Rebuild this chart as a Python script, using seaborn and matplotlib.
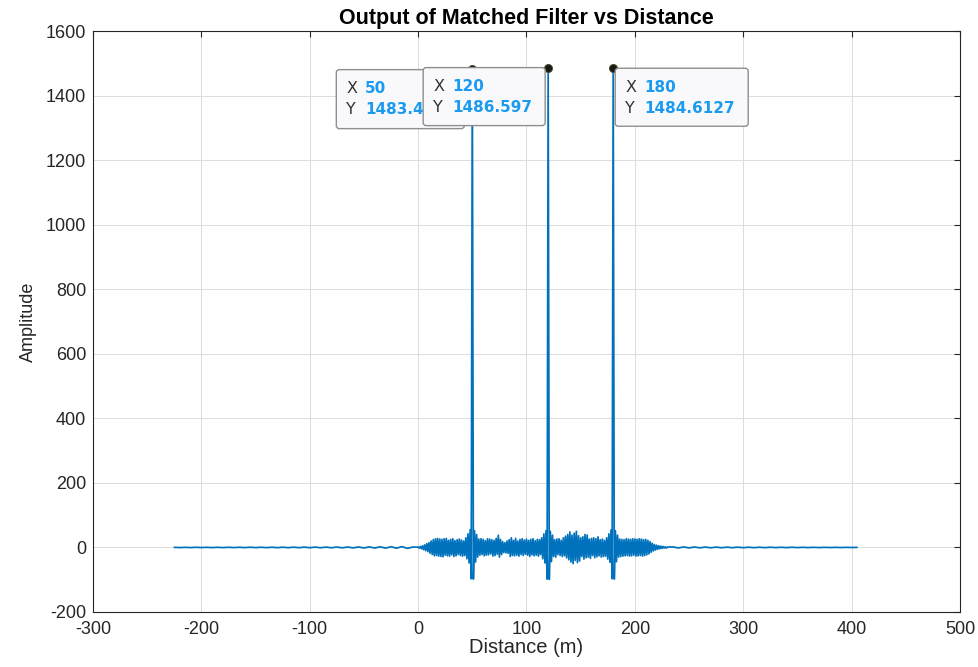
import numpy as np
import matplotlib
matplotlib.use("Agg")
import matplotlib.pyplot as plt
import seaborn as sns
import pandas as pd
from matplotlib.patches import FancyBboxPatch
from matplotlib.transforms import IdentityTransform

# ---------------- data ----------------
# low-level leakage before the echo window (5 m sampling)
tail_left_dist = list(range(-225, 0, 5))
tail_left_amp = [0.3, -0.4, 0.3, -0.4, 0.4, -0.3, 0.4, -0.5, 0.4, -0.5,
                 0.5, -0.4, 0.5, -0.5, 0.6, -0.5, 0.6, -0.6, 0.6, -0.7,
                 0.7, -0.7, 0.8, -0.7, 0.9, -0.8, 1.0, -0.9, 1.0, -1.0,
                 1.1, -1.2, 1.3, -1.4, 1.5, -1.6, 1.7, -1.8, 2.0, -2.1,
                 2.2, -2.4, 2.6, -2.8, 1.0]

# matched-filter output inside the echo window, 1 m sampling from 0 m
band_start = 0
band_amp = [
    1, -2, 3, -4, 5, -7, 8, -10, 12, -13,
    15, -18, 20, -22, 24, -26, 27, -25, 28, -27,
    26, -28, 25, -29, 27, -24, 28, -26, 22, -27,
    25, -23, 27, -28, 21, -26, 24, -22, 26, -25,
    23, -27, 20, -25, 30, -35, 42, -48, 55, -97,
    1483.4127,
    -98, 52, -45, 40, -30, 26, -24, 27, -22,
    25, -26, 21, -24, 27, -23, 26, -20, 24, -27,
    22, -25, 28, -21, 38, -30, 25, -22, 18, -16,
    15, -17, 20, -18, 24, -28, 30, -25, 22, -26,
    28, -24, 20, -27, 25, -22, 27, -25, 23, -21,
    26, -24, 22, -28, 25, -23, 27, -26, 21, -24,
    25, -27, 24, -22, 30, -35, 42, -48, 52, -98,
    1486.597,
    -99, 50, -44, 38, -28, 24, -30, 26, -22,
    27, -25, 22, -28, 30, -26, 35, -32, 40, -38,
    48, -45, 38, -50, 44, -40, 50, -47, 36, -42,
    30, -28, 33, -36, 40, -32, 38, -30, 26, -34,
    28, -25, 30, -32, 27, -29, 33, -26, 24, -30,
    26, -28, 22, -27, 30, -36, 42, -46, 54, -97,
    1484.6127,
    -98, 52, -44, 38, -30, 26, -28, 25, -27,
    24, -26, 27, -25, 26, -27, 25, -26, 27, -24,
    26, -27, 25, -26, 27, -25, 26, -27, 24, -25,
    25, -23, 22, -20, 18, -15, 13, -11, 9, -8,
    7, -6, 5, -4, 4, -3, 3, -2, 2, -2,
    1,
]

# low-level leakage after the echo window (5 m sampling)
tail_right_dist = list(range(235, 406, 5))
tail_right_amp = [1.8, -1.6, 1.5, -1.4, 1.3, -1.2, 1.1, -1.0, 1.0, -0.9,
                  0.9, -0.8, 0.8, -0.7, 0.7, -0.7, 0.6, -0.6, 0.6, -0.5,
                  0.5, -0.5, 0.5, -0.4, 0.4, -0.4, 0.4, -0.4, 0.3, -0.3,
                  0.3, -0.3, 0.3, -0.2, 0.2]

# data tips
peak_dist = [50, 120, 180]
peak_amp = [1483.4127, 1486.597, 1484.6127]
tip_x_text = ["50", "120", "180"]
tip_y_text = ["1483.4127", "1486.597", "1484.6127"]

x_ticks = [-300, -200, -100, 0, 100, 200, 300, 400, 500]
y_ticks = [-200, 0, 200, 400, 600, 800, 1000, 1200, 1400, 1600]

# ---------------- assemble ----------------
band_dist = list(range(band_start, band_start + len(band_amp)))
df = pd.DataFrame({
    "Distance": tail_left_dist + band_dist + tail_right_dist,
    "Amplitude": tail_left_amp + band_amp + tail_right_amp,
})
peaks = pd.DataFrame({"Distance": peak_dist, "Amplitude": peak_amp})

# ---------------- style ----------------
sns.set_theme(style="white")
plt.rcParams["font.family"] = ["Liberation Sans", "DejaVu Sans"]
plt.rcParams["axes.unicode_minus"] = False
axcol = "#262626"

W, H = 979, 667
fig = plt.figure(figsize=(W / 100, H / 100), dpi=100)
ax = fig.add_axes([93 / W, 1 - 612 / H, (960 - 93) / W, (612 - 31) / H])

sns.lineplot(data=df, x="Distance", y="Amplitude", ax=ax, color="#0072BD",
             linewidth=1.25, estimator=None, sort=False, zorder=3)
sns.scatterplot(data=peaks, x="Distance", y="Amplitude", ax=ax, s=34,
                color="#1a1a14", edgecolor="#4a4a2a", linewidth=0.6, zorder=4)

ax.set_xlim(-300, 500)
ax.set_ylim(-200, 1600)
ax.set_xticks(x_ticks)
ax.set_yticks(y_ticks)
ax.grid(True, color="#dcdcdc", linewidth=0.7)
ax.set_axisbelow(True)
for s in ax.spines.values():
    s.set_color(axcol)
    s.set_linewidth(0.8)
    s.set_visible(True)
ax.tick_params(direction="in", length=4, width=0.8, colors=axcol,
               labelsize=13, top=True, right=True)
ax.tick_params(axis="x", pad=6.5)
ax.tick_params(axis="y", pad=5)
ax.set_xlabel("Distance (m)", fontsize=14.5, color=axcol, labelpad=0)
ax.set_ylabel("Amplitude", fontsize=13, color=axcol, labelpad=6)
ax.set_title("Output of Matched Filter vs Distance", fontsize=15.5,
             fontweight="bold", color="black", pad=5)

# ---------------- data tip boxes (pixel layout relative to each point) ----
# (left offset, top offset, width, height) in image pixels
tip_boxes = [(-136, 1, 128, 59), (-125, 0, 122, 58), (2, 0, 133, 58)]
fig.canvas.draw()
for i, (xv, yv) in enumerate(zip(peak_dist, peak_amp)):
    px, py = ax.transData.transform((xv, yv))
    dl, dt, bw, bh = tip_boxes[i]
    left = px + dl
    top = py - dt
    box = FancyBboxPatch((left, top - bh), bw, bh,
                         boxstyle="round,pad=0,rounding_size=3",
                         transform=IdentityTransform(), facecolor="#f9f9fb",
                         edgecolor="#8f8f8f", linewidth=1.0,
                         zorder=10 + 3 * i)
    fig.add_artist(box)
    for j, (lab, val) in enumerate([("X", tip_x_text[i]), ("Y", tip_y_text[i])]):
        ty = top - (19 if j == 0 else 40)
        fig.text(left + 10, ty, lab, transform=IdentityTransform(),
                 fontsize=11.5, color="#333333", va="center", ha="left",
                 family=["DejaVu Sans"], zorder=11 + 3 * i)
        t = fig.text(left + 29, ty, val, transform=IdentityTransform(),
                     fontsize=11, color="#1a9bf0", fontweight="bold",
                     va="center", ha="left", family=["DejaVu Sans"],
                     zorder=11 + 3 * i)
        t.set_clip_path(box)

fig.savefig("out.png", dpi=100)
